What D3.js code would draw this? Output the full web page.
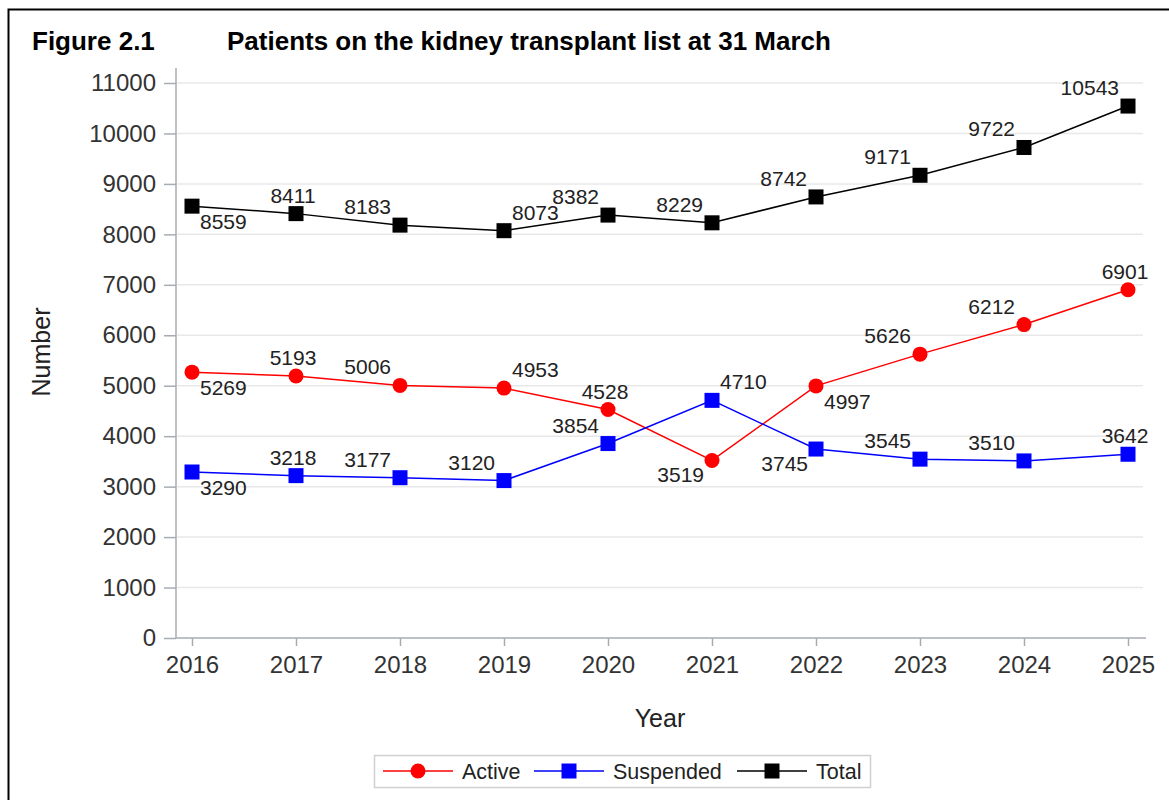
<!DOCTYPE html>
<html>
<head>
<meta charset="utf-8">
<script src="https://cdn.jsdelivr.net/npm/d3@7"></script>
<style>
  body { margin: 0; background: #fff; }
  svg { display: block; font-family: "Liberation Sans", Arial, sans-serif; }
</style>
</head>
<body>
<svg id="chart" width="1169" height="800"></svg>
<script>
const years = [2016, 2017, 2018, 2019, 2020, 2021, 2022, 2023, 2024, 2025];
const active = [5269, 5193, 5006, 4953, 4528, 3519, 4997, 5626, 6212, 6901];
const suspended = [3290, 3218, 3177, 3120, 3854, 4710, 3745, 3545, 3510, 3642];
const total = [8559, 8411, 8183, 8073, 8382, 8229, 8742, 9171, 9722, 10543];
const yTicks = [0, 1000, 2000, 3000, 4000, 5000, 6000, 7000, 8000, 9000, 10000, 11000];

// where each data label sits relative to its marker
const activeLabelPos = ["se", "n", "nw", "ne", "n", "sw", "se", "nw", "nw", "n"];
const suspendedLabelPos = ["se", "n", "nw", "nw", "nw", "ne", "sw", "nw", "nw", "n"];
const totalLabelPos = ["se", "n", "nw", "ne", "nw", "nw", "nw", "nw", "nw", "nw"];

const svg = d3.select("#chart");

const x = d3.scaleLinear().domain([2016, 2025]).range([192, 1128]);
const y = d3.scaleLinear().domain([0, 11000]).range([638, 83]);

// outer frame
svg.append("rect")
  .attr("x", 8.5).attr("y", 9.5)
  .attr("width", 1200).attr("height", 900)
  .attr("fill", "none").attr("stroke", "#000").attr("stroke-width", 2);

// title
svg.append("text").attr("x", 32).attr("y", 50)
  .attr("font-size", 26).attr("font-weight", "bold").attr("fill", "#000")
  .text("Figure 2.1");
svg.append("text").attr("x", 227).attr("y", 50)
  .attr("font-size", 26).attr("font-weight", "bold").attr("fill", "#000")
  .text("Patients on the kidney transplant list at 31 March");

// gridlines
svg.append("g")
  .selectAll("line")
  .data(yTicks.filter(d => d > 0))
  .join("line")
  .attr("x1", 177).attr("x2", 1143)
  .attr("y1", d => y(d)).attr("y2", d => y(d))
  .attr("stroke", "#e8e8e8").attr("stroke-width", 1.5);

// axes
const yAxis = svg.append("g")
  .attr("transform", "translate(176,0)")
  .call(d3.axisLeft(y).tickValues(yTicks).tickSize(12).tickPadding(8).tickFormat(d3.format("d")));
yAxis.select(".domain").attr("d", "M0,68V638");

const xAxis = svg.append("g")
  .attr("transform", "translate(0,638)")
  .call(d3.axisBottom(x).tickValues(years).tickSize(8).tickPadding(10).tickFormat(d3.format("d")));
xAxis.select(".domain").attr("d", "M176,0H1146");

svg.selectAll(".domain").attr("stroke", "#a7acb2").attr("stroke-width", 1.5);
svg.selectAll(".tick line").attr("stroke", "#a7acb2").attr("stroke-width", 1.5);
svg.selectAll(".tick text").attr("font-size", 24).attr("fill", "#333")
  .attr("font-family", "Liberation Sans, Arial, sans-serif");

// axis titles
svg.append("text")
  .attr("transform", "translate(50,352) rotate(-90)")
  .attr("text-anchor", "middle").attr("font-size", 25).attr("fill", "#222")
  .text("Number");
svg.append("text")
  .attr("x", 660).attr("y", 727)
  .attr("text-anchor", "middle").attr("font-size", 25).attr("fill", "#222")
  .text("Year");

const series = [
  { name: "Active", values: active, color: "#ff0000", marker: "circle", labels: activeLabelPos },
  { name: "Suspended", values: suspended, color: "#0000ff", marker: "square", labels: suspendedLabelPos },
  { name: "Total", values: total, color: "#000000", marker: "square", labels: totalLabelPos }
];

const line = d3.line()
  .x((d, i) => x(years[i]))
  .y(d => y(d));

function drawMarker(g, type, color) {
  if (type == "circle") {
    g.append("circle").attr("r", 7.5).attr("fill", color);
  } else {
    g.append("rect").attr("x", -7.5).attr("y", -7.5).attr("width", 15).attr("height", 15).attr("fill", color);
  }
}

function labelOffset(pos) {
  if (pos == "n") return { dx: -3, dy: -11, anchor: "middle" };
  if (pos == "nw") return { dx: -9, dy: -11, anchor: "end" };
  if (pos == "ne") return { dx: 8, dy: -11, anchor: "start" };
  if (pos == "se") return { dx: 8, dy: 23, anchor: "start" };
  return { dx: -8, dy: 22, anchor: "end" };
}

series.forEach(s => {
  svg.append("path")
    .datum(s.values)
    .attr("d", line)
    .attr("fill", "none")
    .attr("stroke", s.color)
    .attr("stroke-width", 1.5);

  s.values.forEach((v, i) => {
    const g = svg.append("g").attr("transform", `translate(${x(years[i])},${y(v)})`);
    drawMarker(g, s.marker, s.color);
  });
});

series.forEach(s => {
  svg.append("g")
    .selectAll("text")
    .data(s.values)
    .join("text")
    .attr("x", (d, i) => x(years[i]) + labelOffset(s.labels[i]).dx)
    .attr("y", (d, i) => y(d) + labelOffset(s.labels[i]).dy)
    .attr("text-anchor", (d, i) => labelOffset(s.labels[i]).anchor)
    .attr("font-size", 21)
    .attr("fill", "#222")
    .text(d => d);
});

// legend
const legend = svg.append("g");
legend.append("rect")
  .attr("x", 374.5).attr("y", 755.5).attr("width", 496).attr("height", 32)
  .attr("fill", "#fff").attr("stroke", "#d0d0d0").attr("stroke-width", 1.5);

const legendX = [383, 534, 737];
series.forEach((s, i) => {
  const g = legend.append("g").attr("transform", `translate(${legendX[i]},771)`);
  g.append("line").attr("x1", 0).attr("x2", 70).attr("stroke", s.color).attr("stroke-width", 1.5);
  const m = g.append("g").attr("transform", "translate(35,0)");
  drawMarker(m, s.marker, s.color);
  g.append("text").attr("x", 79).attr("y", 8)
    .attr("font-size", 21.5).attr("fill", "#222")
    .text(s.name);
});
</script>
</body>
</html>
